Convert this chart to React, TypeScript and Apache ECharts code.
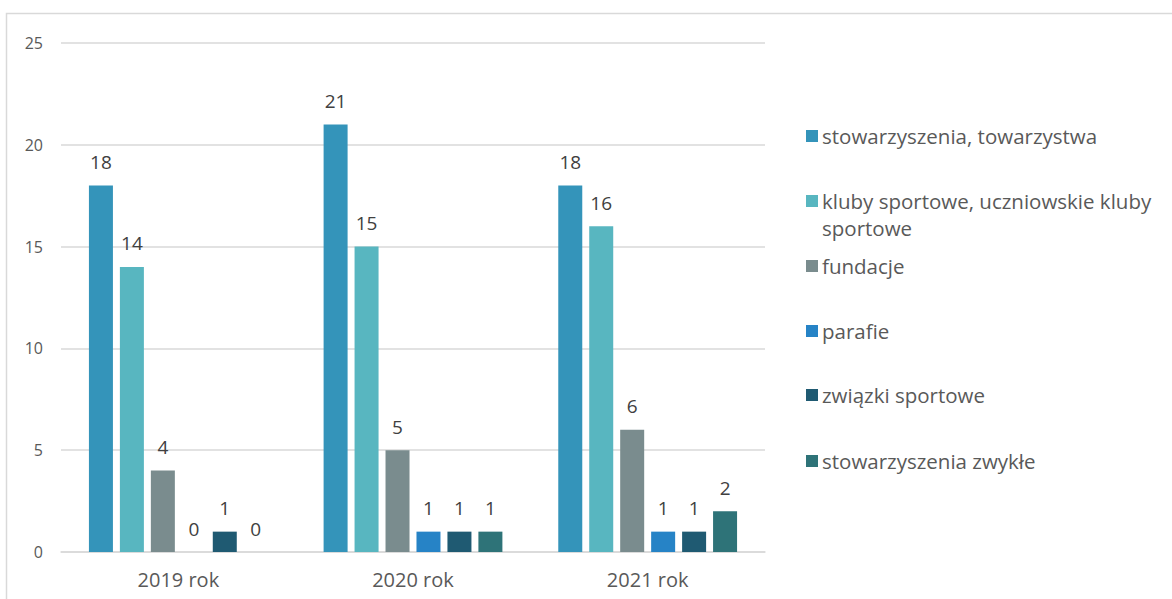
import React, { useEffect, useRef } from "react";
import * as echarts from "echarts";

const categories = ["2019 rok", "2020 rok", "2021 rok"];
const seriesNames = [
  "stowarzyszenia, towarzystwa",
  "kluby sportowe, uczniowskie kluby sportowe",
  "fundacje",
  "parafie",
  "związki sportowe",
  "stowarzyszenia zwykłe",
];
const stowarzyszenia = [18, 21, 18];
const kluby = [14, 15, 16];
const fundacje = [4, 5, 6];
const parafie = [0, 1, 1];
const zwiazki = [1, 1, 1];
const zwykle = [0, 1, 2];
const seriesValues = [stowarzyszenia, kluby, fundacje, parafie, zwiazki, zwykle];
const colors = ["#3494BA", "#58B6C0", "#7A8C8E", "#2683C6", "#1F5A72", "#2E7378"];
const legendCenters = [136, 201, 266, 331, 395, 461];

export default function App() {
  const ref = useRef<HTMLDivElement>(null);
  useEffect(() => {
    const chart = echarts.init(ref.current!, null, { renderer: "svg" });
    const font = "'Open Sans', sans-serif";
    const lh = 27;
    const legends = seriesNames.map((name, i) => {
      const multi = i === 1;
      return {
        orient: "vertical",
        left: 806,
        top: multi ? legendCenters[i] - lh * 1.5 : legendCenters[i] - lh / 2,
        padding: 0,
        itemWidth: 12,
        itemHeight: 12,
        itemGap: 0,
        icon: "rect",
        data: [name],
        formatter: multi ? () => "\nkluby sportowe, uczniowskie kluby\nsportowe" : undefined,
        textStyle: {
          color: "#595959",
          fontSize: 20.5,
          fontFamily: font,
          lineHeight: lh,
          padding: [0, 0, 0, -1],
        },
      };
    });
    chart.setOption({
      animation: false,
      color: colors,
      graphic: [
        {
          type: "rect",
          shape: { x: 6.5, y: 13.5, width: 1300, height: 700 },
          style: { fill: "none", stroke: "#D9D9D9", lineWidth: 1.5 },
          silent: true,
        },
      ],
      legend: legends,
      grid: { left: 61, right: 407, top: 43, bottom: 47, containLabel: false },
      xAxis: {
        type: "category",
        data: categories,
        axisLine: { show: true, lineStyle: { color: "#D9D9D9", width: 1.5 } },
        axisTick: { show: false },
        axisLabel: { color: "#595959", fontSize: 20, fontFamily: font, margin: 17 },
      },
      yAxis: {
        type: "value",
        min: 0,
        max: 25,
        interval: 5,
        axisLine: { show: false },
        axisTick: { show: false },
        splitLine: { lineStyle: { color: "#D9D9D9", width: 1.5 } },
        axisLabel: { color: "#595959", fontSize: 16, fontFamily: font, margin: 18 },
      },
      series: seriesNames.map((name, i) => ({
        name,
        type: "bar",
        data: seriesValues[i],
        barWidth: 24,
        barGap: "29%",
        itemStyle: { color: colors[i] },
        label: {
          show: true,
          position: "top",
          distance: 14,
          color: "#404040",
          fontSize: 19,
          fontFamily: font,
        },
      })),
    });
    return () => chart.dispose();
  }, []);
  return (
    <div
      ref={ref}
      style={{ position: "absolute", left: 0, top: 0, width: 1172, height: 599, background: "#fff" }}
    />
  );
}
